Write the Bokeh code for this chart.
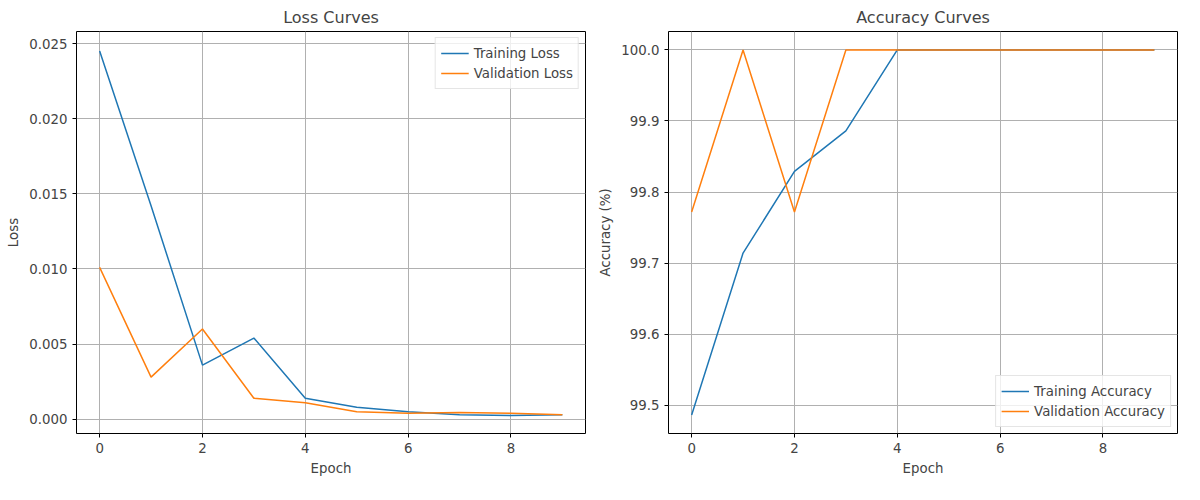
from bokeh.plotting import figure
from bokeh.layouts import row
from bokeh.models import Range1d, FixedTicker, Legend, CustomJSTickFormatter
from bokeh.embed import file_html
from bokeh.resources import INLINE

epochs = list(range(10))
train_loss = [0.0245, 0.0142, 0.0036, 0.0054, 0.0014, 0.0008, 0.0005, 0.0003, 0.00025, 0.0003]
val_loss = [0.0101, 0.0028, 0.0060, 0.0014, 0.0011, 0.0005, 0.0004, 0.00045, 0.0004, 0.0003]
train_acc = [99.486, 99.714, 99.829, 99.886, 100.0, 100.0, 100.0, 100.0, 100.0, 100.0]
val_acc = [99.772, 100.0, 99.772, 100.0, 100.0, 100.0, 100.0, 100.0, 100.0, 100.0]

BLUE, ORANGE = "#1f77b4", "#ff7f0e"
FONT = "DejaVu Sans"


def make_fig(title, ylabel, yrange, yticks, fmt):
    p = figure(width=592, height=484, output_backend="svg", toolbar_location=None,
               x_range=Range1d(-0.45, 9.45), y_range=Range1d(*yrange),
               min_border_left=76, min_border_right=7, min_border_top=29, min_border_bottom=51)
    p.title.text = title
    p.title.align = "center"
    p.title.text_font = FONT
    p.title.text_font_size = "12pt"
    p.title.text_font_style = "normal"
    p.outline_line_color = "black"
    p.xaxis.axis_label = "Epoch"
    p.yaxis.axis_label = ylabel
    p.xaxis.ticker = FixedTicker(ticks=[0, 2, 4, 6, 8])
    p.yaxis.ticker = FixedTicker(ticks=yticks)
    p.yaxis.formatter = CustomJSTickFormatter(code="return tick.toFixed(%d);" % fmt)
    for ax in (p.xaxis, p.yaxis):
        ax.axis_label_text_font = FONT
        ax.axis_label_text_font_size = "10pt"
        ax.axis_label_text_font_style = "normal"
        ax.major_label_text_font = FONT
        ax.major_label_text_font_size = "10pt"
        ax.minor_tick_line_color = None
        ax.major_tick_out = 4
        ax.major_tick_in = 0
        ax.axis_line_color = None
    p.grid.grid_line_color = "#b0b0b0"
    p.grid.grid_line_alpha = 1.0
    return p


p1 = make_fig("Loss Curves", "Loss", (-0.00095, 0.0258),
              [0.0, 0.005, 0.010, 0.015, 0.020, 0.025], 3)
r1 = p1.line(epochs, train_loss, color=BLUE, line_width=1.5)
r2 = p1.line(epochs, val_loss, color=ORANGE, line_width=1.5)
lg1 = Legend(items=[("Training Loss", [r1]), ("Validation Loss", [r2])], location="top_right")

p2 = make_fig("Accuracy Curves", "Accuracy (%)", (99.46, 100.026),
              [99.5, 99.6, 99.7, 99.8, 99.9, 100.0], 1)
r3 = p2.line(epochs, train_acc, color=BLUE, line_width=1.5)
r4 = p2.line(epochs, val_acc, color=ORANGE, line_width=1.5)
lg2 = Legend(items=[("Training Accuracy", [r3]), ("Validation Accuracy", [r4])], location="bottom_right")

for p, lg in ((p1, lg1), (p2, lg2)):
    lg.label_text_font = FONT
    lg.label_text_font_size = "10pt"
    lg.border_line_color = "#cccccc"
    lg.background_fill_alpha = 0.8
    lg.glyph_width = 28
    lg.label_height = 14
    lg.spacing = 0
    lg.padding = 5
    lg.margin = 6
    p.add_layout(lg)

layout = row(p1, p2)
open("out.html", "w").write(file_html(layout, INLINE))
